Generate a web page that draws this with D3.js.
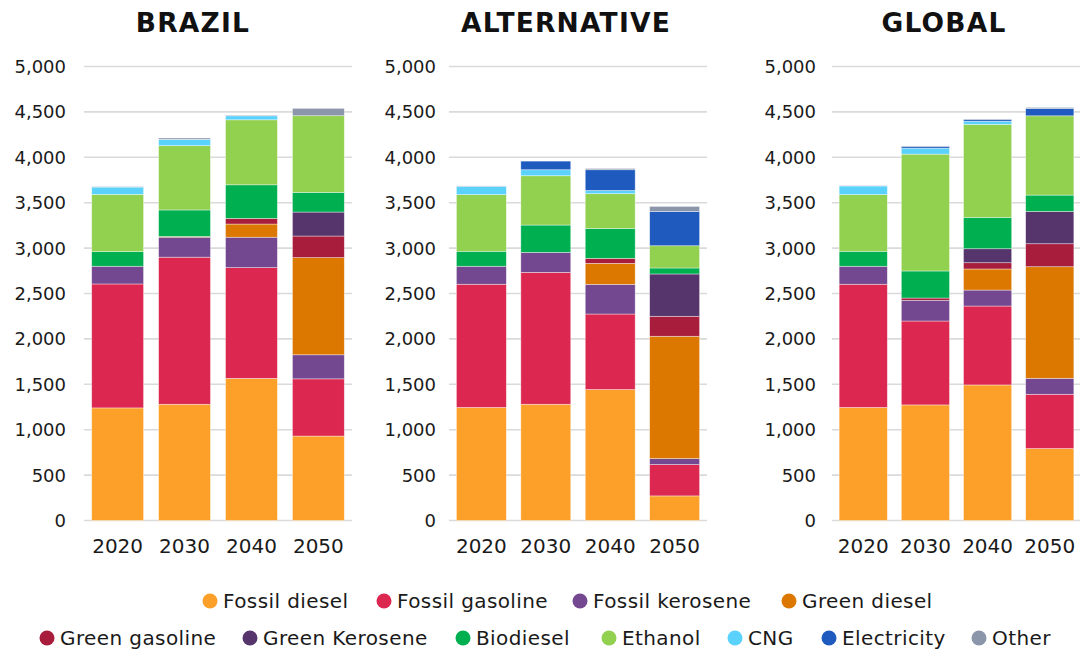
<!DOCTYPE html>
<html><head><meta charset="utf-8">
<script src="https://cdn.jsdelivr.net/npm/d3@7"></script>
<style>body{margin:0;background:#fff} svg{display:block}</style>
</head><body><svg id="chart" width="1080" height="653"></svg>
<script>
// ---------- DATA ----------
const years = ["2020", "2030", "2040", "2050"];
const seriesNames = ["Fossil diesel", "Fossil gasoline", "Fossil kerosene", "Green diesel",
  "Green gasoline", "Green Kerosene", "Biodiesel", "Ethanol", "CNG", "Electricity", "Other"];
const seriesColors = ["#FDA02A", "#DC2850", "#744890", "#DC7800", "#A81C3C", "#55356C",
  "#00AF50", "#92D050", "#5BD2FC", "#1F5BBF", "#8C96AA"];
const yTickValues = [0, 500, 1000, 1500, 2000, 2500, 3000, 3500, 4000, 4500, 5000];
const panelTitles = ["BRAZIL", "ALTERNATIVE", "GLOBAL"];

// rows follow seriesNames, columns follow years
const brazilValues = [
  [1240, 1280, 1565, 930],
  [1365, 1620, 1220, 630],
  [195, 220, 335, 265],
  [0, 8, 145, 1070],
  [0, 0, 62, 238],
  [0, 0, 0, 264],
  [162, 292, 370, 217],
  [630, 708, 716, 844],
  [80, 70, 44, 0],
  [0, 0, 0, 0],
  [6, 15, 8, 81]
];
const alternativeValues = [
  [1245, 1280, 1442, 271],
  [1357, 1453, 832, 345],
  [198, 220, 327, 66],
  [0, 0, 231, 1347],
  [0, 0, 55, 220],
  [0, 0, 0, 466],
  [165, 301, 330, 66],
  [624, 543, 382, 245],
  [91, 66, 36, 0],
  [0, 95, 228, 378],
  [5, 0, 14, 55]
];
const globalValues = [
  [1245, 1273, 1493, 792],
  [1357, 924, 869, 598],
  [198, 228, 176, 176],
  [0, 0, 232, 1229],
  [0, 25, 69, 253],
  [0, 0, 154, 356],
  [165, 298, 345, 180],
  [624, 1287, 1024, 873],
  [95, 66, 36, 0],
  [0, 19, 19, 81],
  [5, 5, 5, 11]
];
const panelValues = [brazilValues, alternativeValues, globalValues];

// ---------- LAYOUT ----------
const panelLayout = [
  {x0: 84, x1: 352, labelX: 66, titleX: 193},
  {x0: 449, x1: 707, labelX: 436, titleX: 566},
  {x0: 832, x1: 1081, labelX: 816, titleX: 944}
];
const yTop = 66.5, yBottom = 520.5;
const FONT = "'DejaVu Sans', sans-serif";
const TEXT = "#1a1a1a";

const svg = d3.select("#chart");
const y = d3.scaleLinear().domain([0, 5000]).range([yBottom, yTop]);
const color = d3.scaleOrdinal().domain(seriesNames).range(seriesColors);
const fmt = d3.format(",");

panelValues.forEach((vals, pi) => {
  const L = panelLayout[pi];
  const g = svg.append("g");
  const x = d3.scaleBand().domain(years).range([L.x0, L.x1])
    .paddingInner(0.225).paddingOuter(0.115);

  const table = years.map((yr, j) => {
    const row = {year: yr};
    seriesNames.forEach((s, i) => row[s] = vals[i][j]);
    return row;
  });
  const stacked = d3.stack().keys(seriesNames)(table);

  g.append("g").selectAll("line").data(yTickValues).join("line")
    .attr("x1", L.x0).attr("x2", L.x1)
    .attr("y1", d => y(d)).attr("y2", d => y(d))
    .attr("stroke", "#dadada").attr("stroke-width", 1.6);

  g.append("g").selectAll("text").data(yTickValues).join("text")
    .attr("x", L.labelX).attr("y", d => y(d) + 6.5)
    .attr("text-anchor", "end")
    .attr("font-family", FONT).attr("font-size", 18).attr("fill", TEXT)
    .text(d => fmt(d));

  g.append("g").selectAll("g").data(stacked).join("g")
    .attr("fill", d => color(d.key))
    .selectAll("rect").data(d => d.filter(p => p[1] - p[0] > 0)).join("rect")
    .attr("x", d => x(d.data.year))
    .attr("width", x.bandwidth())
    .attr("y", d => y(d[1]))
    .attr("height", d => y(d[0]) - y(d[1]))
    .attr("stroke", "rgba(255,255,255,0.55)").attr("stroke-width", 0.7);

  g.append("g").selectAll("text").data(years).join("text")
    .attr("x", d => x(d) + x.bandwidth() / 2).attr("y", 553)
    .attr("text-anchor", "middle")
    .attr("font-family", FONT).attr("font-size", 20).attr("fill", TEXT)
    .text(d => d);

  g.append("text").attr("x", L.titleX).attr("y", 32)
    .attr("text-anchor", "middle")
    .attr("font-family", FONT).attr("font-weight", "bold").attr("font-size", 26.5)
    .attr("letter-spacing", 1.2)
    .attr("fill", "#111").text(panelTitles[pi]);
});

// ---------- LEGEND ----------
const legendRows = [
  {y: 601, items: seriesNames.slice(0, 4), textX: [223, 397, 593, 802]},
  {y: 638, items: seriesNames.slice(4), textX: [60, 263, 476, 622, 748, 842, 992]}
];
legendRows.forEach(row => {
  const lg = svg.append("g").selectAll("g").data(row.items).join("g")
    .attr("transform", (d, i) => `translate(${row.textX[i]},${row.y})`);
  lg.append("circle").attr("cx", -13).attr("cy", 0).attr("r", 7.5)
    .attr("fill", d => color(d));
  lg.append("text").attr("x", 0).attr("y", 7)
    .attr("font-family", FONT).attr("font-size", 20).attr("letter-spacing", 0.4)
    .attr("fill", TEXT).text(d => d);
});
</script></body></html>
